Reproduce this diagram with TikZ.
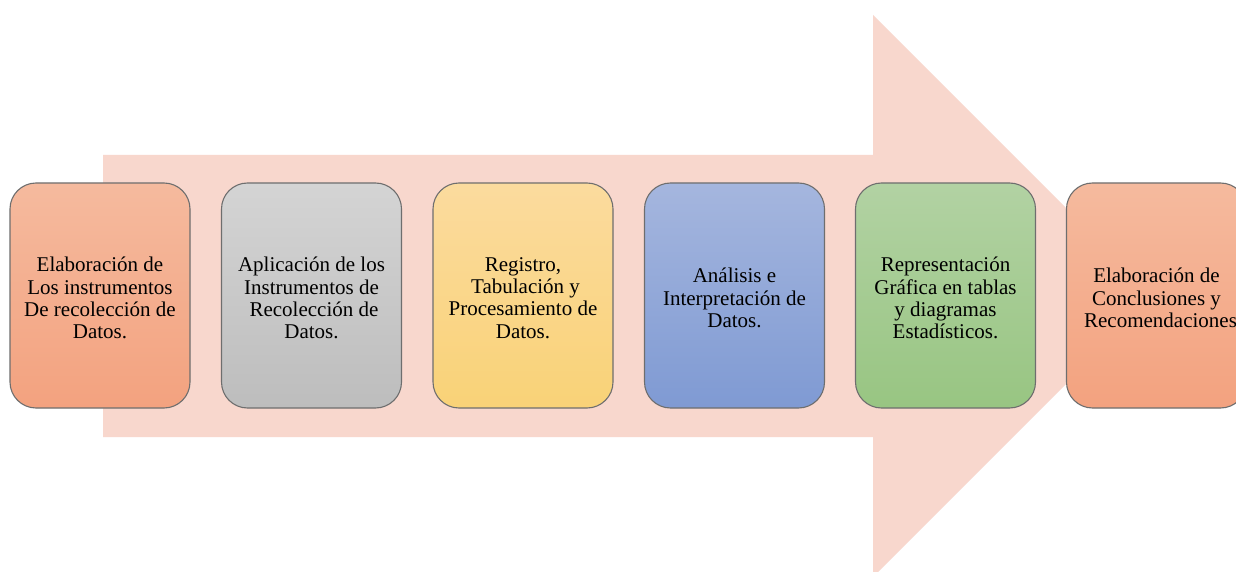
\documentclass[tikz,border=0pt]{standalone}
\usepackage{fontspec}
\setmainfont{Liberation Serif}
\definecolor{arrowfill}{HTML}{F8D7CD}
\definecolor{edge}{HTML}{6E6E6E}
\definecolor{orT}{HTML}{F5BA9E}\definecolor{orB}{HTML}{F3A27F}
\definecolor{grT}{HTML}{D4D4D4}\definecolor{grB}{HTML}{BDBDBD}
\definecolor{yeT}{HTML}{FBDB9E}\definecolor{yeB}{HTML}{F9D277}
\definecolor{blT}{HTML}{A5B6DE}\definecolor{blB}{HTML}{7F9AD3}
\definecolor{gnT}{HTML}{B2D2A3}\definecolor{gnB}{HTML}{98C582}
\tikzset{
  stepbox/.style={draw=edge, line width=1.1pt, rounded corners=26pt,
    minimum width=180pt, minimum height=225pt, inner sep=0pt},
  steptext/.style={align=center, inner sep=0pt, yshift=-2.5pt,
    font=\fontsize{21}{22.3}\selectfont, text=black},
  bigarrow/.style={fill=arrowfill, draw=none}
}
\begin{document}
\begin{tikzpicture}[x=1pt,y=1pt]
\useasboundingbox (0,0) rectangle (1236,571);
\clip (0,0) rectangle (1236,571);
\fill[white] (0,0) rectangle (1236,571);
% big arrow
\path[bigarrow] (103,416) -- (873,416) -- (873,556) -- (1154,275) -- (873,-6) -- (873,134) -- (103,134) -- cycle;
% steps
\node[stepbox, top color=orT, bottom color=orB,
  label={[steptext]center:{Elaboración de\\Los instrumentos\\De recolección de\\Datos.}}] (s1) at (100,275.5) {};
\node[stepbox, top color=grT, bottom color=grB,
  label={[steptext]center:{Aplicación de los\\Instrumentos de\\\hspace*{5pt}Recolección de\\Datos.}}] (s2) at (311.5,275.5) {};
\node[stepbox, top color=yeT, bottom color=yeB,
  label={[steptext]center:{Registro,\\\hspace*{5pt}Tabulación y\\Procesamiento de\\Datos.}}] (s3) at (523,275.5) {};
\node[stepbox, top color=blT, bottom color=blB,
  label={[steptext]center:{Análisis e\\Interpretación de\\Datos.}}] (s4) at (734.5,275.5) {};
\node[stepbox, top color=gnT, bottom color=gnB,
  label={[steptext]center:{Representación\\Gráfica en tablas\\y diagramas\\Estadísticos.}}] (s5) at (945.5,275.5) {};
\node[stepbox, top color=orT, bottom color=orB,
  label={[steptext]center:{Elaboración de\\Conclusiones y\\\hspace*{8pt}Recomendaciones}}] (s6) at (1156.5,275.5) {};
\end{tikzpicture}
\end{document}
